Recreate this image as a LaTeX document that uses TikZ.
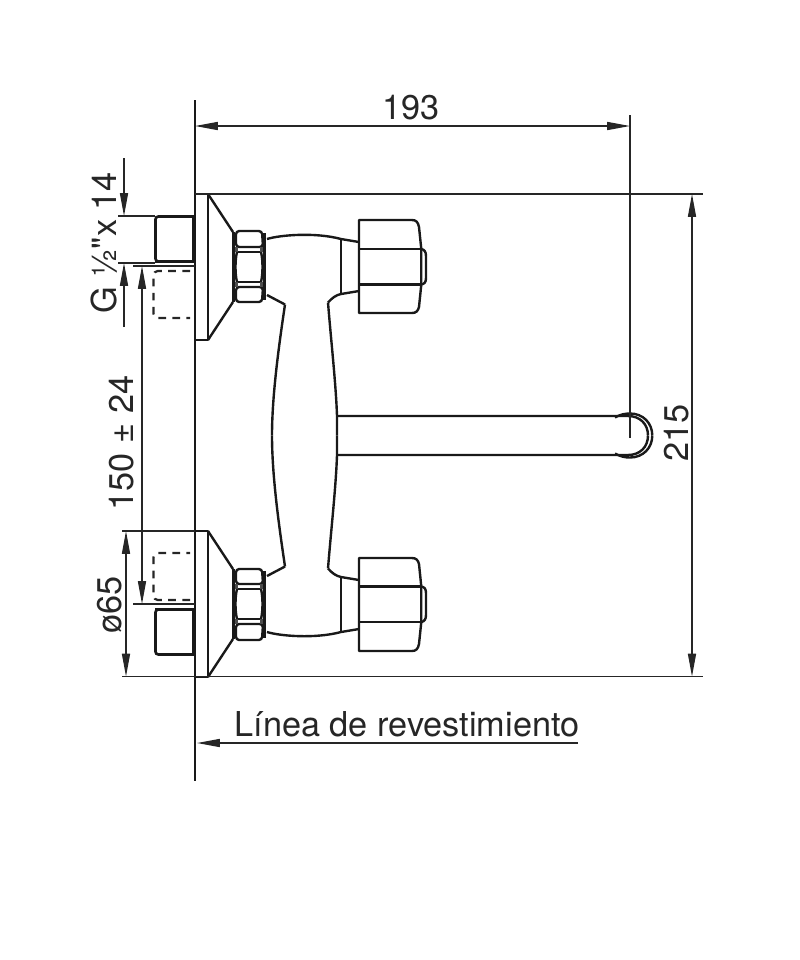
\documentclass[tikz,border=0pt]{standalone}
\usepackage{fontspec}
\newfontfamily\labelfont{TeX Gyre Heros}
\usetikzlibrary{arrows.meta}
\tikzset{
  dimline/.style={line width=0.35pt,black!85},
  dimarrow/.style={dimline,-{Triangle[length=6.5pt,width=2.3pt]}},
  dimboth/.style={dimline,{Triangle[length=6.5pt,width=2.3pt]}-{Triangle[length=6.5pt,width=2.3pt]}},
  outline/.style={line width=0.68pt,black!90,line join=round},
  hidden/.style={line width=0.62pt,black!85,dash pattern=on 2.2pt off 1.8pt},
  dimlabel/.style={font=\labelfont\fontsize{9.75pt}{11pt}\selectfont,black!85,inner sep=0pt}
}
\begin{document}
\begin{tikzpicture}[x=0.01cm,y=-0.01cm]
  \useasboundingbox (0,0) rectangle (800,960);

  % dos mitades iguales, la de abajo reflejada
  \foreach \mirrored in {0,1}{
    \begin{scope}[shift={(0,871*\mirrored)},yscale={1-2*\mirrored}]
      % brida
      \draw[outline] (195,194)--(208,194)--(208,340)--(195,340);
      \draw[outline] (208,194)--(233,232);
      \draw[outline] (208,340)--(233,302);
      % niple y entrada oculta
      \draw[line width=0.75pt,black!90,rounded corners=0.8pt] (195,216.5)--(155.5,216.5)--(155.5,261.5)--(195,261.5);
      \draw[line width=0.9pt,black!90] (155,261.8)--(194,261.8);
      \draw[line width=0.9pt,black!90] (155.5,220)--(155.5,259);
      \draw[line width=1.1pt,black!90] (193.5,216)--(193.5,262);
      \draw[hidden,rounded corners=1.2pt] (190,271)--(153.5,271)--(153.5,318)--(190,318);
      % tuerca
      \draw[line width=1pt,black!90] (233.5,232)--(233.5,302);
      \draw[line width=1pt,black!90] (264.5,233)--(264.5,300);
      \draw[outline,rounded corners=0.9pt] (236,231)--(262,231)--(263,247)--(236,247)--cycle;
      \draw[outline,rounded corners=0.9pt] (236,287)--(263,287)--(262,302)--(236,302)--cycle;
      \draw[outline] (236,252)--(262,252);
      \draw[outline] (236,282)--(262,282);
      \draw[line width=0.9pt,black!70] (236.5,247)--(236.5,252);
      \draw[line width=0.9pt,black!70] (261.5,247)--(261.5,252);
      \draw[line width=0.9pt,black!70] (236.5,282)--(236.5,287);
      \draw[line width=0.9pt,black!70] (261.5,282)--(261.5,287);
      \draw[outline] (237,252) .. controls (235,260) and (235,274) .. (237,282);
      \draw[outline] (261,252) .. controls (263,260) and (263,274) .. (261,282);
      % cuello
      \draw[outline] (267,239) .. controls (280,235) and (315,232) .. (341,239)--(359,242);
      \draw[outline] (341,239)--(341,294);
      \draw[outline] (359,291)--(341,294) .. controls (336,295) and (332,298) .. (328,302.5);
      \draw[outline] (267,295)--(285,304.5);
      % manija
      \draw[outline,fill=white] (359,220)--(412,220) .. controls (416,220) and (418,222) .. (419,227)
        --(421.3,249)--(421.3,284.5)--(419,307) .. controls (418,311) and (416,313) .. (412,313)--(359,313)--cycle;
      \draw[outline] (359,249)--(421.3,249);
      \draw[outline] (359,284.5)--(421.3,284.5);
      \draw[outline] (421.3,249) .. controls (424.5,249.5) and (426,252) .. (426,256)
        --(426,278) .. controls (426,282) and (424.5,284) .. (421.3,284.5);
      % cuerpo
      \draw[outline] (285,304.5) .. controls (279,345) and (272,395) .. (272,435.5);
      \draw[outline] (328,302.5) .. controls (331,340) and (336,385) .. (337,416)--(337,435.5);
      % caño
      \draw[outline] (337,416)--(628,416) .. controls (640,416) and (648,424) .. (648,435.5);
      \draw[outline] (615,417.5) .. controls (620,414.5) and (625,413.5) .. (630,413.5)
        .. controls (643,413.5) and (652.3,423) .. (652.3,435.5);
    \end{scope}
  }

  % linea de revestimiento
  \draw[line width=0.65pt,black!90] (195,100)--(195,781);

  % cotas
  \coordinate (topL) at (195,194);
  \coordinate (topR) at (703,194);
  \coordinate (botL) at (122,676.5);
  \coordinate (botR) at (703,676.5);
  \draw[dimline] (topL)--(topR);
  \draw[dimline] (botL)--(botR);
  \draw[dimline] (122,531)--(195,531);
  \draw[dimline] (118,216)--(155,216);
  \draw[dimline] (118,263)--(155,263);
  \draw[dimline] (133,266)--(195,266);
  \draw[dimline] (133,604)--(195,604);
  \draw[dimline] (630,115)--(630,438);

  \draw[dimboth] (195,126)--(630,126);
  \draw[dimboth] (692,194)--(692,676.5);
  \draw[dimboth] (142,266)--(142,604);
  \draw[dimboth] (126,531)--(126,676.5);
  \draw[dimarrow] (124,158)--(124,216);
  \draw[dimarrow] (124,327)--(124,263);
  \draw[dimarrow] (578,743)--(197,743);

  \node[dimlabel] (lbltop) at (411,108) {193};
  \node[dimlabel,rotate=90] (lblright) at (677,433) {215};
  \node[dimlabel,rotate=90] (lblgap) at (122,443) {150 ± 24};
  \node[dimlabel,rotate=90] (lbldia) at (110,605) {ø65};
  \node[dimlabel,rotate=90] (lblthread) at (104,243) {G ½"x 14};
  \node[dimlabel] (lblwall) at (407,724) {Línea de revestimiento};
\end{tikzpicture}
\end{document}
